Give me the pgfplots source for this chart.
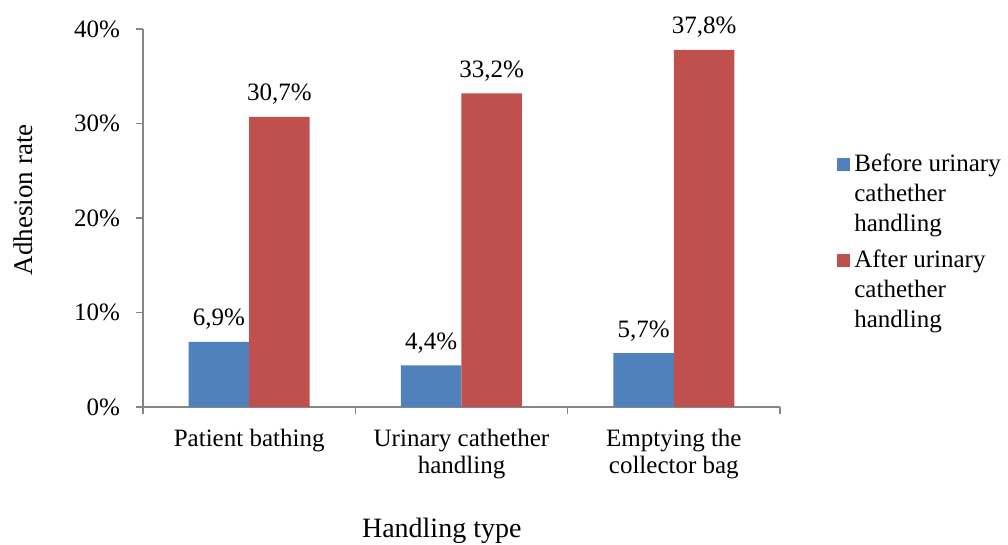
\documentclass[border=0pt]{standalone}
\usepackage{fontspec}
\setmainfont{Liberation Serif}
\usepackage{pgfplots}
\pgfplotsset{compat=1.18}
\definecolor{cblue}{HTML}{4F81BD}
\definecolor{cred}{HTML}{C0504D}
\definecolor{axgray}{HTML}{868686}
\begin{document}
\begin{tikzpicture}
\useasboundingbox (-71.5pt,-69pt) rectangle (432.5pt,203.5pt);
\begin{axis}[
  at={(0pt,0pt)}, anchor=south west,
  scale only axis, width=318.5pt, height=189pt,
  ybar=0pt, bar width=30.25pt,
  xmin=-0.5, xmax=2.5, ymin=0, ymax=40,
  axis x line*=bottom, axis y line*=left,
  axis line style={axgray, line width=0.6pt, -},
  every tick/.style={axgray, line width=0.6pt},
  tick align=outside,
  major tick length=3.5pt,
  xtick={-0.5,0.5,1.5,2.5}, xticklabels={},
  extra x ticks={0,1,2},
  extra x tick labels={Patient bathing, {Urinary cathether\\handling}, {Emptying the\\collector bag}},
  extra x tick style={major tick length=0pt, tick style={draw=none}},
  xticklabel style={align=center, yshift=-7.5pt, font=\fontsize{12.5}{13.5}\selectfont},
  ytick={0,10,20,30,40}, yticklabels={0\%,10\%,20\%,30\%,40\%},
  yticklabel style={xshift=-4.5pt, font=\fontsize{12.5}{14}\selectfont},
  ylabel={Adhesion rate},
  ylabel style={at={(axis description cs:-0.188,0.548)}, anchor=center, font=\fontsize{13.5}{15}\selectfont},
  xlabel={Handling type},
  xlabel style={at={(axis description cs:0.469,-0.328)}, anchor=center, font=\fontsize{14}{16}\selectfont},
  nodes near coords={\pgfmathprintnumber[fixed,fixed zerofill,precision=1,use comma,assume math mode=true]{\pgfplotspointmeta}\%},
  nodes near coords style={anchor=base, yshift=8pt, font=\fontsize{12.5}{14}\selectfont, text=black},
  legend style={draw=none, fill=none, at={(axis description cs:1.08,0.693)}, anchor=north west,
    font=\fontsize{12.5}{15}\selectfont, row sep=4pt, column sep=0pt,
    cells={anchor=west, align=left}},
  legend image code/.code={\fill[#1] (0pt,11.5pt) rectangle (6.5pt,18pt);},
]
\addplot[fill=cblue, draw=none] coordinates {(0,6.9) (1,4.4) (2,5.7)};
\addplot[fill=cred, draw=none] coordinates {(0,30.7) (1,33.2) (2,37.8)};
\legend{{Before urinary\\cathether\\handling}, {After urinary\\cathether\\handling}}
\end{axis}
\end{tikzpicture}
\end{document}
